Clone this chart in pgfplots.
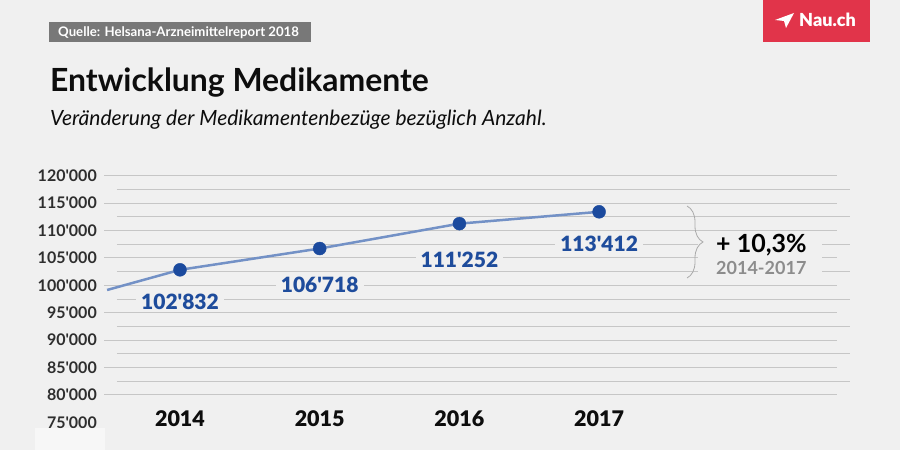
\documentclass[border=0pt]{standalone}
\usepackage{pgfplots}
\pgfplotsset{compat=1.18}
\usetikzlibrary{decorations.pathreplacing}
\usepackage{fontspec}
\setmainfont{Lato}[Ligatures=TeXOff]
\newfontfamily\latoblack{Lato Black}[Ligatures=TeXOff]
\definecolor{bg}{HTML}{F0F0F0}
\definecolor{srcgray}{HTML}{787878}
\definecolor{naured}{HTML}{E1344A}
\definecolor{titlecol}{HTML}{0D0D0D}
\definecolor{tickcol}{HTML}{2E2E2E}
\definecolor{fadegray}{HTML}{999999}
\definecolor{gridc}{HTML}{C6C6C6}
\definecolor{linecol}{HTML}{7391C6}
\definecolor{markblue}{HTML}{1B4A9E}
\definecolor{labelblue}{HTML}{1E4C9C}
\definecolor{bracegray}{HTML}{AAAAAA}
\definecolor{rangegray}{HTML}{8C8C8C}
\begin{document}
\begin{tikzpicture}[x=1pt,y=1pt]
\useasboundingbox (0,0) rectangle (900,450);
\fill[bg] (0,0) rectangle (900,450);
% source box
\fill[srcgray] (49,408) rectangle (311,428);
\node[anchor=base west, inner sep=0pt, text=white, font=\bfseries\fontsize{13.2}{16}\selectfont] at (58,413) {Quelle: Helsana-Arzneimittelreport 2018};
% title
\node[anchor=base west, inner sep=0pt, text=titlecol, font=\bfseries\fontsize{31.9}{38}\selectfont] at (50,358.3) {Entwicklung Medikamente};
\node[anchor=base west, inner sep=0pt, text=titlecol, font=\itshape\fontsize{21}{25}\selectfont] at (50,324) {Veränderung der Medikamentenbezüge bezüglich Anzahl.};
% logo
\fill[naured] (763,408) rectangle (870,450);
\fill[white] (775,430) -- (794,437) -- (786,422) -- (784,429) -- cycle;
\node[anchor=base west, inner sep=0pt, text=white, font=\latoblack\fontsize{18}{21}\selectfont] at (799,423) {Nau.ch};

\begin{axis}[
  at={(104pt,27.6pt)}, anchor=south west,
  scale only axis, width=746pt, height=246.7pt,
  xmin=2013.456, xmax=2018.796, ymin=75000, ymax=120000,
  axis line style={draw=none}, major tick length=0pt,
  clip=false, scaled y ticks=false, scaled x ticks=false,
  ytick={80000,85000,90000,95000,100000,105000,110000,115000,120000},
  yticklabels={80'000,85'000,90'000,95'000,100'000,105'000,110'000,115'000,120'000},
  extra y ticks={75000}, extra y tick labels={75'000},
  extra y tick style={tick label style={text=fadegray}},
  xtick={2014,2015,2016,2017},
  xticklabels={2014,2015,2016,2017},
  yticklabel style={anchor=east, inner sep=0pt, xshift=-7pt, text=tickcol, font=\bfseries\fontsize{16}{19}\selectfont},
  xticklabel style={anchor=center, inner sep=0pt, yshift=3.7pt, text=titlecol, font=\latoblack\fontsize{21.5}{26}\selectfont},
]
\pgfplotsinvokeforeach{80000,85000,90000,95000,100000,105000,110000,115000,120000}{
  \draw[gridc, line width=1pt] (axis cs:2013.456,#1) -- (axis cs:2018.703,#1);
}
\pgfplotsinvokeforeach{82500,87500,92500,97500,102500,107500,112500,117500}{
  \draw[gridc, line width=1pt] (axis cs:2013.549,#1) -- (axis cs:2018.796,#1);
}
\node[fill=bg, inner xsep=5pt, inner ysep=2pt, text=labelblue, font=\latoblack\fontsize{21}{25}\selectfont] at (axis cs:2014,96963) {102'832};
\node[fill=bg, inner xsep=5pt, inner ysep=2pt, text=labelblue, font=\latoblack\fontsize{21}{25}\selectfont] at (axis cs:2015,100064) {106'718};
\node[fill=bg, inner xsep=5pt, inner ysep=2pt, text=labelblue, font=\latoblack\fontsize{21}{25}\selectfont] at (axis cs:2016,104624) {111'252};
\node[fill=bg, inner xsep=5pt, inner ysep=2pt, text=labelblue, font=\latoblack\fontsize{21}{25}\selectfont] at (axis cs:2017,107542) {113'412};
\addplot[linecol, line width=2.5pt, no markers] coordinates {(2013.478,99152) (2014,102832) (2015,106718) (2016,111252) (2017,113412)};
\addplot[only marks, mark=*, mark size=6.5pt, mark options={fill=markblue, draw=markblue}] coordinates {(2014,102832) (2015,106718) (2016,111252) (2017,113412)};
\end{axis}

% change annotation
\fill[bg] (698,216) rectangle (822,169);
\draw[bracegray, line width=0.8pt, decorate, decoration={brace, amplitude=16pt}] (687,244) -- (687,172);
\node[anchor=base west, inner sep=0pt, text=black, font=\bfseries\fontsize{25}{30}\selectfont] at (716,197.3) {+ 10,3\%};
\node[anchor=base west, inner sep=0pt, text=rangegray, font=\bfseries\fontsize{18}{22}\selectfont] at (716,175) {2014-2017};

% faded bottom-left
\fill[white, opacity=0.5] (35,0) rectangle (105,22);
\end{tikzpicture}
\end{document}
